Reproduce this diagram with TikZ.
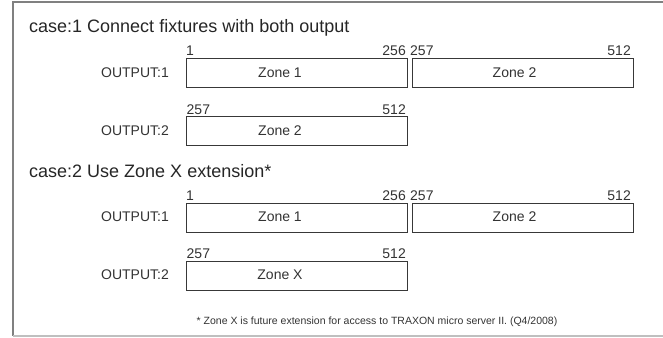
\documentclass[tikz,border=0pt]{standalone}
\usepackage{fontspec}
\setmainfont{Liberation Sans}
\begin{document}
\begin{tikzpicture}[x=1pt,y=-1pt,
  zone/.style={draw=black!78, line width=0.9pt, fill=white, rectangle, inner sep=0pt,
               minimum width=221pt, minimum height=29pt, anchor=north west},
  lbl/.style={inner sep=0pt, font=\fontsize{14}{16}\selectfont, text=black!80},
  outl/.style={lbl, anchor=east},
  numw/.style={lbl, anchor=base west},
  nume/.style={lbl, anchor=base east},
  head/.style={inner sep=0pt, font=\fontsize{18}{21}\selectfont, text=black!85, anchor=base west},
  foot/.style={inner sep=0pt, font=\fontsize{10.5}{12}\selectfont, text=black!80},
]
\useasboundingbox (0,0) rectangle (663,337);
% frame
\coordinate (ftr) at (664,2);
\coordinate (ftl) at (13,2);
\coordinate (fbl) at (13,336);
\coordinate (fbr) at (664,336);
\draw[black!50, line width=1.2pt] (ftr) -- (ftl) -- (fbl);
\draw[black!25, line width=1.2pt] (fbl) -- (fbr);

% ---------- case 1 ----------
\node[head] (h1) at (29,32.5) {case:1 Connect fixtures with both output};

\node[zone] (a1) at (186,58) {};
\node[zone] (a2) at (411.5,58) {};
\node[zone] (b1) at (186,116) {};

\node[outl] (ao) at (169,72.5) {OUTPUT:1};
\node[outl] (bo) at (169,130.5) {OUTPUT:2};

\node[lbl] (a1t) at (280,72.5) {Zone 1};
\node[lbl] (a2t) at (514.5,72.5) {Zone 2};
\node[lbl] (b1t) at (280,130.5) {Zone 2};

\node[numw] (a1s) at (186,56) {1};
\node[nume] (a1e) at (406,56) {256};
\node[numw] (a2s) at (410,56) {257};
\node[nume] (a2e) at (631,56) {512};
\node[numw] (b1s) at (186.5,114) {257};
\node[nume] (b1e) at (406,114) {512};

% ---------- case 2 ----------
\node[head] (h2) at (29,177) {case:2 Use Zone X extension*};

\node[zone] (c1) at (186,202.5) {};
\node[zone] (c2) at (411.5,202.5) {};
\node[zone] (d1) at (186,260.5) {};

\node[outl] (co) at (169,217) {OUTPUT:1};
\node[outl] (do) at (169,275) {OUTPUT:2};

\node[lbl] (c1t) at (280,217) {Zone 1};
\node[lbl] (c2t) at (514.5,217) {Zone 2};
\node[lbl] (d1t) at (280,275) {Zone X};

\node[numw] (c1s) at (186,200.5) {1};
\node[nume] (c1e) at (406,200.5) {256};
\node[numw] (c2s) at (410,200.5) {257};
\node[nume] (c2e) at (631,200.5) {512};
\node[numw] (d1s) at (186.5,258.5) {257};
\node[nume] (d1e) at (406,258.5) {512};

% footnote
\node[foot] (fn) at (377,321.5) {* Zone X is future extension for access to TRAXON micro server II. (Q4/2008)};
\end{tikzpicture}
\end{document}
